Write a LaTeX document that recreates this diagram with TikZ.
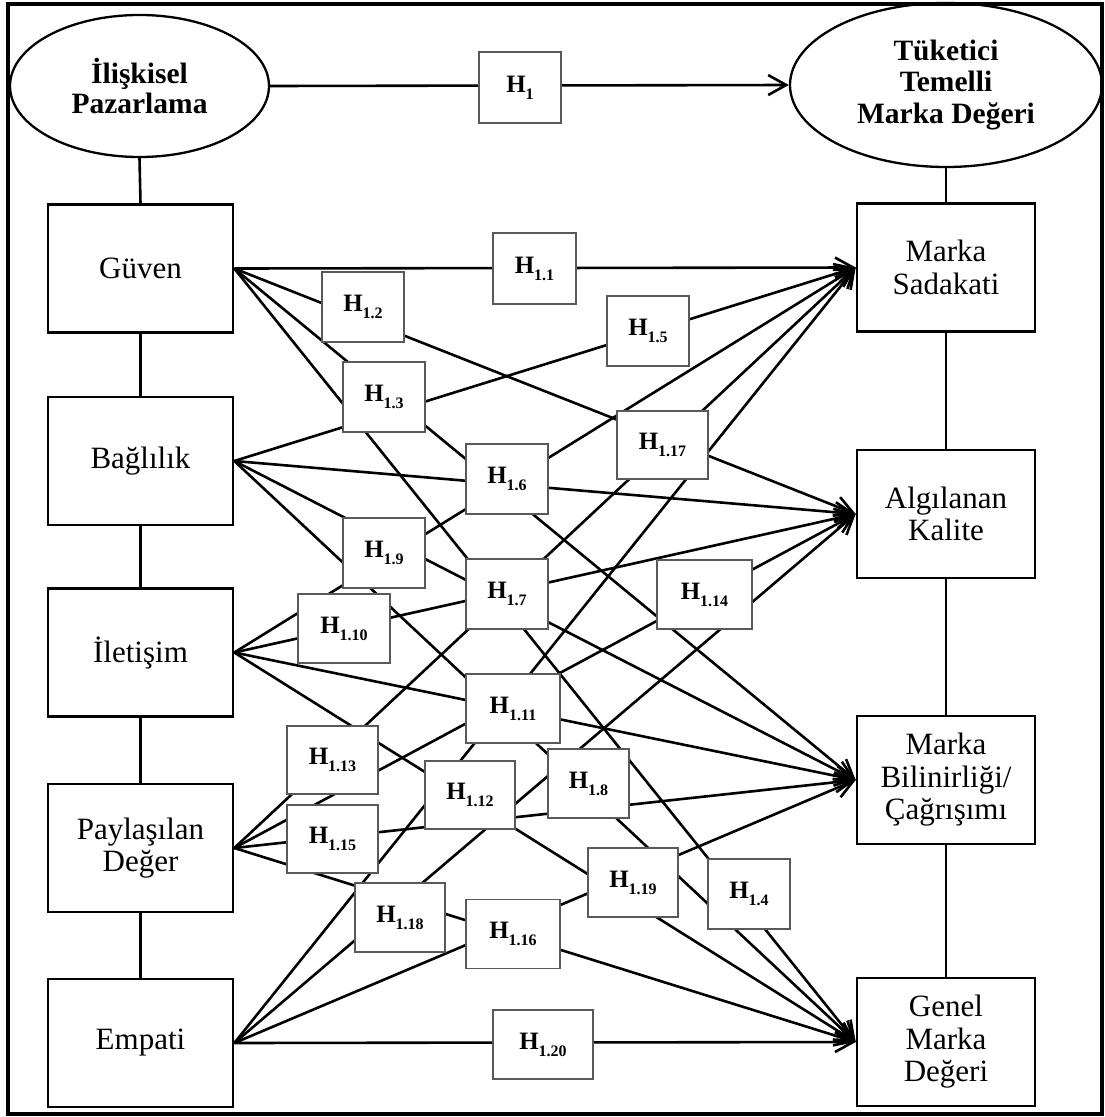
\documentclass[tikz,border=0pt]{standalone}
\usepackage{fontspec}
\setmainfont{Liberation Serif}
\usetikzlibrary{shapes.geometric,arrows.meta}
\newcommand{\Hyp}[1]{H\raisebox{-7pt}{\fontsize{16}{16}\selectfont #1}}
\begin{document}
\begin{tikzpicture}[x=1pt,y=-1pt,
  big/.style={draw, line width=2.6pt, rectangle, minimum width=185pt, minimum height=128pt, inner sep=0pt, align=center, font=\fontsize{31}{32.5}\selectfont},
  tgt/.style={big, minimum width=178pt},
  oval/.style={draw, line width=2.3pt, ellipse, inner sep=0pt, align=center},
  hbox/.style={draw=black!65, line width=1.2pt, fill=white, rectangle, inner sep=0pt, minimum height=70pt, font=\fontsize{25}{25}\selectfont\bfseries},
  link/.style={line width=2.6pt},
  arr/.style={line width=2.6pt, -{Straight Barb[length=18pt,width=20pt]}},
]
\useasboundingbox (0,0) rectangle (1105,1117);
\draw[line width=4pt] (8,3.5) rectangle (1102,1113.5);

% main constructs
\node[oval, minimum width=259pt, minimum height=142pt, font=\fontsize{29.5}{29.5}\selectfont\bfseries] (LE) at (139.5,86) {İlişkisel\\Pazarlama};
\node[oval, minimum width=312pt, minimum height=164pt, font=\fontsize{29.5}{31.5}\selectfont\bfseries] (RE) at (946,85) {Tüketici\\Temelli\\Marka Değeri};

% dimensions
\node[big] (G) at (140.5,268.5) {Güven};
\node[big] (B) at (140.5,461) {Bağlılık};
\node[big] (I) at (140.5,652.5) {İletişim};
\node[big] (P) at (140.5,848) {Paylaşılan\\Değer};
\node[big] (E) at (140.5,1043) {Empati};
\node[tgt] (MS) at (946,267.5) {Marka\\Sadakati};
\node[tgt] (AK) at (946,514) {Algılanan\\Kalite};
\node[tgt] (MB) at (946,780) {Marka\\Bilinirliği/\\Çağrışımı};
\node[tgt] (GM) at (946,1042) {Genel\\Marka\\Değeri};

% structural links
\draw[link] (LE.south) -- (G.north);
\draw[link] (G.south) -- (B.north);
\draw[link] (B.south) -- (I.north);
\draw[link] (I.south) -- (P.north);
\draw[link] (P.south) -- (E.north);
\draw[link] (RE.south) -- (MS.north);
\draw[link] (MS.south) -- (AK.north);
\draw[link] (AK.south) -- (MB.north);
\draw[link] (MB.south) -- (GM.north);
\draw[arr] (LE.east) -- (RE.west);

% hypothesis paths
\foreach \s in {G,B,I,P,E}
  \foreach \t in {MS,AK,MB,GM}
    \draw[arr] (\s.east) -- (\t.west);

% hypothesis labels
\node[hbox, minimum width=82pt, minimum height=71pt] (H1) at (520,87.5) {\Hyp{1}};
\node[hbox, minimum width=83pt, minimum height=71pt] (H11) at (534.5,268.5) {\Hyp{1.1}};
\node[hbox, minimum width=82pt] (H12) at (363,307) {\Hyp{1.2}};
\node[hbox, minimum width=82pt] (H13) at (384,397) {\Hyp{1.3}};
\node[hbox, minimum width=82pt] (H14) at (749,894) {\Hyp{1.4}};
\node[hbox, minimum width=82pt] (H15) at (648,331) {\Hyp{1.5}};
\node[hbox, minimum width=82pt] (H16) at (507,479) {\Hyp{1.6}};
\node[hbox, minimum width=82pt] (H17) at (507,594) {\Hyp{1.7}};
\node[hbox, minimum width=81pt, minimum height=69pt] (H18) at (588.5,783.5) {\Hyp{1.8}};
\node[hbox, minimum width=82pt] (H19) at (384,553) {\Hyp{1.9}};
\node[hbox, minimum width=92pt, minimum height=69pt] (H110) at (344,628.5) {\Hyp{1.10}};
\node[hbox, minimum width=94pt, minimum height=69pt] (H111) at (513,708.5) {\Hyp{1.11}};
\node[hbox, minimum width=90pt, minimum height=68pt] (H112) at (470,795) {\Hyp{1.12}};
\node[hbox, minimum width=91pt, minimum height=68pt] (H113) at (332.5,760) {\Hyp{1.13}};
\node[hbox, minimum width=95pt, minimum height=69pt] (H114) at (704.5,594.5) {\Hyp{1.14}};
\node[hbox, minimum width=91pt, minimum height=68pt] (H115) at (332.5,839) {\Hyp{1.15}};
\node[hbox, minimum width=94pt, minimum height=69pt] (H116) at (513,934) {\Hyp{1.16}};
\node[hbox, minimum width=91pt, minimum height=68pt] (H117) at (662.5,445) {\Hyp{1.17}};
\node[hbox, minimum width=90pt, minimum height=69pt] (H118) at (400,917.5) {\Hyp{1.18}};
\node[hbox, minimum width=90pt, minimum height=69pt] (H119) at (633,882.5) {\Hyp{1.19}};
\node[hbox, minimum width=100pt, minimum height=69pt] (H120) at (543,1044.5) {\Hyp{1.20}};
\end{tikzpicture}
\end{document}
